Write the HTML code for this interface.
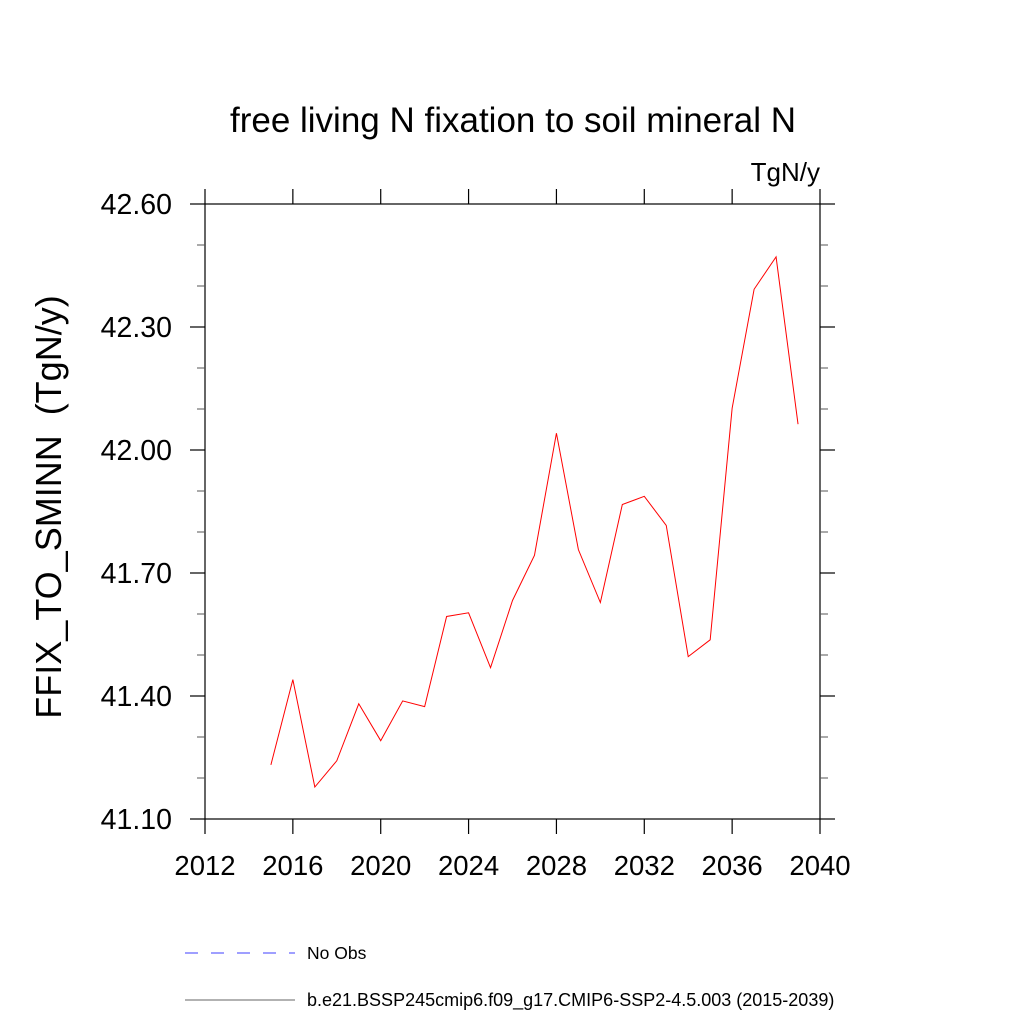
<!DOCTYPE html>
<html><head><meta charset="utf-8"><style>body{margin:0;background:#fff}svg{display:block}text{font-family:"Liberation Sans",sans-serif}</style></head>
<body>
<svg id="c" width="1024" height="1024" xmlns="http://www.w3.org/2000/svg">
<text x="513" y="132" font-size="35" text-anchor="middle">free living N fixation to soil mineral N</text>
<text x="820" y="181" font-size="26" text-anchor="end">TgN/y</text>
<text transform="translate(61,507) rotate(-90)" font-size="36" text-anchor="middle" xml:space="preserve">FFIX_TO_SMINN  (TgN/y)</text>
<g id="axes"></g>
<g id="series"></g>
<line x1="185" y1="953" x2="295" y2="953" stroke="#00f" stroke-dasharray="13,13" stroke-width="0.8"/>
<text x="307" y="959" font-size="17.5">No Obs</text>
<line x1="185" y1="1000" x2="295" y2="1000" stroke="#333" stroke-width="0.8"/>
<text x="307" y="1006" font-size="18">b.e21.BSSP245cmip6.f09_g17.CMIP6-SSP2-4.5.003 (2015-2039)</text>
</svg>
<script>
const years=[2015,2016,2017,2018,2019,2020,2021,2022,2023,2024,2025,2026,2027,2028,2029,2030,2031,2032,2033,2034,2035,2036,2037,2038,2039];
const values=[41.232,41.44,41.178,41.242,41.381,41.291,41.388,41.374,41.594,41.603,41.469,41.633,41.743,42.041,41.757,41.628,41.867,41.887,41.816,41.496,41.537,42.102,42.392,42.471,42.063];
const xTicks=[2012,2016,2020,2024,2028,2032,2036,2040];
const yTicks=[41.10,41.40,41.70,42.00,42.30,42.60];
const yMinor=[41.2,41.3,41.5,41.6,41.8,41.9,42.1,42.2,42.4,42.5];
const NS="http://www.w3.org/2000/svg";
const L=205,R=820,T=204,B=819;
const sx=v=>L+(v-2012)/28*(R-L);
const sy=v=>B-(v-41.1)/1.5*(B-T);
const ax=document.getElementById('axes'),se=document.getElementById('series');
function mk(tag,a,p){const e=document.createElementNS(NS,tag);for(const k in a)e.setAttribute(k,a[k]);p.appendChild(e);return e;}
const fr=mk('rect',{x:L,y:T,width:R-L,height:B-T,fill:'none',stroke:'#000','stroke-width':1.2},ax);


xTicks.forEach(t=>{const x=sx(t);
 const a=mk('line',{x1:x,x2:x,y1:B,y2:B+15,stroke:'#000','stroke-width':1.2},ax);
 
 
 const b=mk('line',{x1:x,x2:x,y1:T,y2:T-15,stroke:'#000','stroke-width':1.2},ax);
 
 
 const tx=mk('text',{x:x,y:875,'font-size':27.5,'text-anchor':'middle'},ax);tx.textContent=t;
 
 
});
yTicks.forEach(t=>{const y=sy(t);
 const a=mk('line',{x1:L-15,x2:L,y1:y,y2:y,stroke:'#000','stroke-width':1.2},ax);
 
 
 const b=mk('line',{x1:R,x2:R+15,y1:y,y2:y,stroke:'#000','stroke-width':1.2},ax);
 
 
 const tx=mk('text',{x:172,y:y+10,'font-size':28.5,'text-anchor':'end'},ax);tx.textContent=t.toFixed(2);
 
 
});
yMinor.forEach(t=>{const y=sy(t);
 const a=mk('line',{x1:L-8,x2:L,y1:y,y2:y,stroke:'#555','stroke-width':1},ax);
 
 
 const b=mk('line',{x1:R,x2:R+8,y1:y,y2:y,stroke:'#555','stroke-width':1},ax);
 
 
});
const pl=mk('polyline',{points:years.map((y,i)=>sx(y)+','+sy(values[i])).join(' '),fill:'none',stroke:'#f00','stroke-width':1},se);


</script>
</body></html>
